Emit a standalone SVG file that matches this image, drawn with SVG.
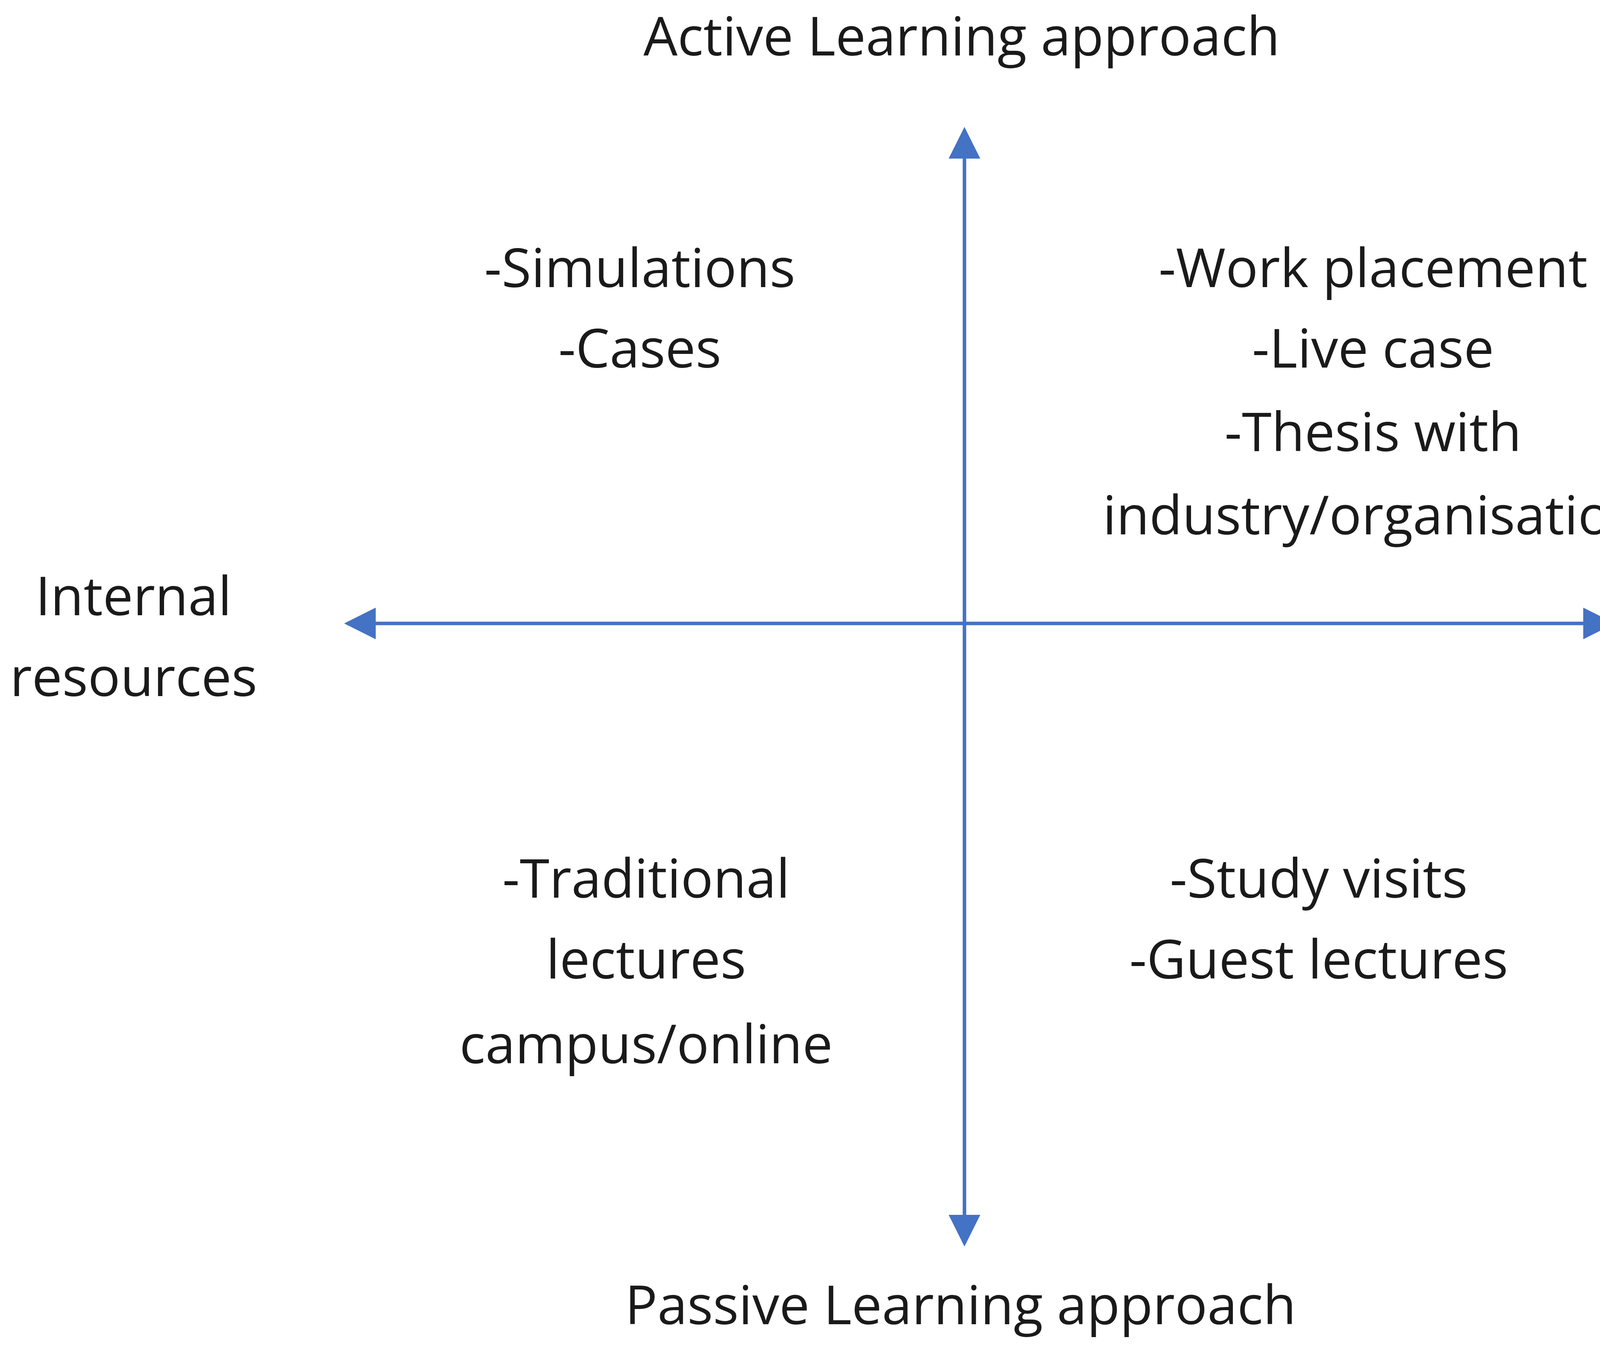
<svg xmlns="http://www.w3.org/2000/svg" width="5066" height="3456" viewBox="0 0 5066 3456">
<style>
text{font-family:"Open Sans","Liberation Sans",sans-serif;font-size:138px;fill:#1a1a1a;text-anchor:middle}
.ax{stroke:#4472C4;stroke-width:9;fill:none}
</style>
<defs>
<marker id="ah" viewBox="0 0 10 10" refX="9" refY="5" markerWidth="9" markerHeight="9" markerUnits="strokeWidth" orient="auto">
<path d="M0,0L10,5L0,10z" fill="#4472C4"/>
</marker>
</defs>
<rect width="5066" height="3456" fill="#fff"/>
<g id="connectors">
<line class="ax" x1="2469" y1="1596" x2="2469" y2="333" marker-end="url(#ah)"/>
<line class="ax" x1="2469" y1="1596" x2="2469" y2="3183" marker-end="url(#ah)"/>
<line class="ax" x1="2469" y1="1596" x2="889" y2="1596" marker-end="url(#ah)"/>
<line class="ax" x1="2469" y1="1596" x2="4126" y2="1596" marker-end="url(#ah)"/>
</g>
<g id="active"><text x="2462" y="142">Active Learning approach</text></g>
<g id="passive"><text x="2459" y="3390">Passive Learning approach</text></g>
<g id="internal"><text x="342" y="1575">Internal</text><text x="342" y="1782">resources</text></g>
<g id="external"><text x="4730" y="1575">External</text><text x="4730" y="1785">resources</text></g>
<g id="q1"><text x="1638" y="735">-Simulations</text><text x="1638" y="941">-Cases</text></g>
<g id="q2"><text x="3515" y="735">-Work placement</text><text x="3515" y="941">-Live case</text><text x="3515" y="1155">-Thesis with</text><text x="3515" y="1368">industry/organisation</text></g>
<g id="q3"><text x="1654" y="2298">-Traditional</text><text x="1654" y="2505">lectures</text><text x="1654" y="2722">campus/online</text></g>
<g id="q4"><text x="3376" y="2298">-Study visits</text><text x="3376" y="2505">-Guest lectures</text></g>
</svg>
